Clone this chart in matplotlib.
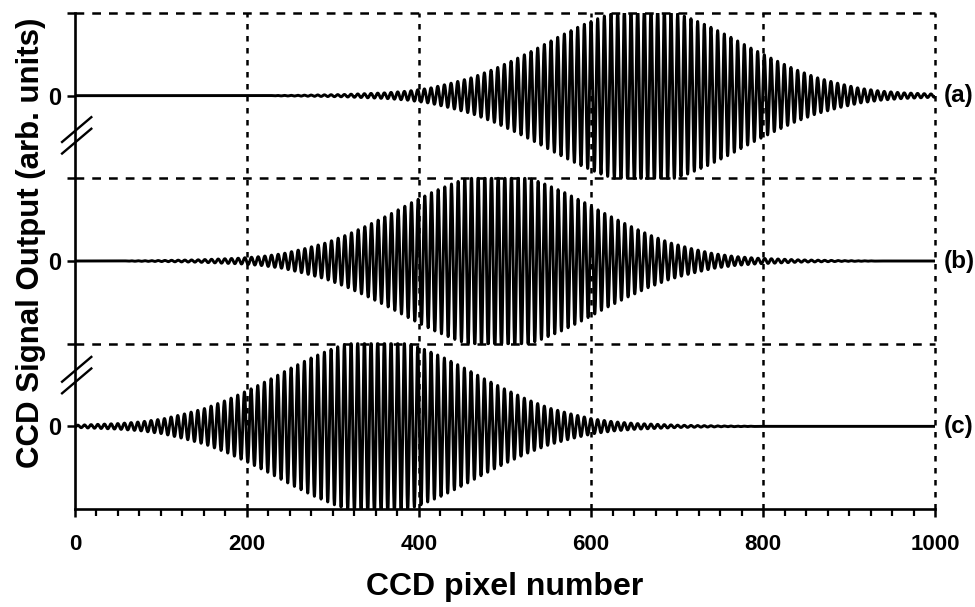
import numpy as np
import matplotlib
matplotlib.use("Agg")
import matplotlib.pyplot as plt
import matplotlib.transforms as mtransforms

plt.rcParams['font.family'] = ['Liberation Sans', 'DejaVu Sans']
plt.rcParams['font.weight'] = 'bold'

# traces: label, envelope centre (CCD pixel), baseline position on the axis
trace_labels = ['(a)', '(b)', '(c)']
trace_centers = [662, 492, 352]
trace_baselines = [5, 3, 1]

# fringe envelope: amplitude vs distance from centre
# (values above 1 are saturated / clipped in the plot)
envelope_offset = [0, 25, 50, 75, 100, 125, 150, 175, 200, 225, 250, 275,
                   300, 350, 400, 450, 1000]
envelope_amp = [1.08, 1.04, 0.95, 0.84, 0.71, 0.57, 0.44, 0.32, 0.22, 0.15,
                0.09, 0.055, 0.035, 0.014, 0.005, 0.0, 0.0]
fringe_period = 7.75  # CCD pixels per fringe

x_ticks = [0, 200, 400, 600, 800, 1000]
break_marks = [4.52, 1.62]

fig = plt.figure(figsize=(9.75, 6.07), dpi=100)
ax = fig.add_axes([0.0769, 0.1614, 0.8821, 0.8172])

pix = np.linspace(0, 1000, 8001)
for lab, c, base in zip(trace_labels, trace_centers, trace_baselines):
    env = np.interp(np.abs(pix - c), envelope_offset, envelope_amp)
    sig = np.clip(env * np.cos(2 * np.pi * (pix - c) / fringe_period), -1, 1)
    ax.plot(pix, base + sig, color='black', lw=2.1, zorder=3)
    ax.text(1010, base, lab, fontsize=17.5, fontweight='bold', va='center',
            ha='left')

# dashed grid
for xv in x_ticks[1:]:
    ax.plot([xv, xv], [0, 6], color='black', lw=1.8, ls=(0, (2.2, 2.6)),
            zorder=1, clip_on=False)
for yv in [2, 4, 6]:
    ax.plot([0, 1000], [yv, yv], color='black', lw=1.8, ls=(0, (3.5, 3.2)),
            zorder=1, clip_on=False)

ax.set_xlim(0, 1000)
ax.set_ylim(0, 6)
ax.spines['top'].set_visible(False)
ax.spines['right'].set_visible(False)
ax.spines['left'].set_linewidth(1.9)
ax.spines['bottom'].set_linewidth(1.9)

ax.set_xticks(x_ticks)
ax.set_xticks(np.arange(0, 1001, 25), minor=True)
ax.set_yticks([1, 2, 3, 4, 5, 6])
ax.set_yticklabels(['0', '', '0', '', '0', ''])
ax.tick_params(axis='both', which='major', direction='out', length=6,
               width=1.8, labelsize=16, pad=4)
ax.tick_params(axis='y', which='major', labelsize=17)
ax.tick_params(axis='x', which='minor', direction='out', length=5, width=1.6)
ax.tick_params(axis='x', which='major', pad=12)
for t in ax.get_xticklabels() + ax.get_yticklabels():
    t.set_fontweight('bold')

ax.set_xlabel('CCD pixel number', fontsize=23, fontweight='bold', labelpad=12)
ax.set_ylabel('CCD Signal Output (arb. units)', fontsize=22.5,
              fontweight='bold')
ax.yaxis.set_label_coords(-0.034, 0.536)

# axis break marks on the left spine
trans = mtransforms.blended_transform_factory(ax.transAxes, ax.transData)
for yb in break_marks:
    for dy in [0.07, -0.07]:
        ax.plot([-0.015, 0.019], [yb + dy - 0.15, yb + dy + 0.15],
                transform=trans, color='black', lw=1.7, clip_on=False)

fig.savefig('out.png', dpi=100)
